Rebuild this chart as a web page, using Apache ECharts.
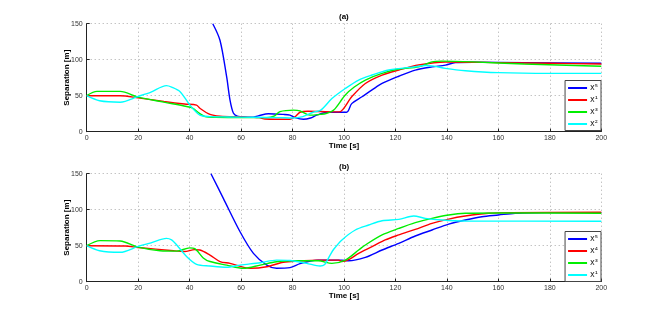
<!DOCTYPE html>
<html><head><meta charset="utf-8">
<script src="https://cdn.jsdelivr.net/npm/echarts@6/dist/echarts.min.js"></script>
<style>html,body{margin:0;padding:0;background:#fff}#c{width:664px;height:317px}</style>
</head><body><div id="c"></div>
<script>
// ---------- data (time [s], separation [m]) ----------
const xTicks = [0,20,40,60,80,100,120,140,160,180,200];
const yTicks = [0,50,100,150];
const panelTitles = ['(a)','(b)'];
const legendA = ['x⁵','x¹','x³','x²'];   // panel (a)
const legendB = ['x⁵','x⁴','x³','x¹'];   // panel (b)

const aBlue = [[49,150],[51.8,127],[54.4,76],[55.7,44],[57,26],[58.5,21.5],[60,20.8],[64,20],[66.7,22],[70.6,25],[76.4,24],[79,23],[81,19.5],[84.2,17.2],[87,19],[89.4,23],[93.9,27],[101,27],[103,39],[107,48.6],[110.9,58],[114.8,67],[121.3,77],[127.7,85.5],[134.2,90],[139.4,92.5],[143.3,96],[150,96.5],[170,96],[200,95]];
const aRed = [[0,50],[13,50],[20,47],[30,42],[38,38.5],[42.7,37],[44,32.5],[47.9,24],[51.8,21.5],[60,20.5],[67,19.5],[69.3,17.6],[79,17.2],[81,20.8],[82.9,27],[86,28.5],[96,27.5],[98.2,27.5],[103,48.6],[108.3,67],[114.8,78.7],[121.3,85.7],[129,92.6],[139.4,96.8],[160,96],[180,95],[200,94]];
const aGreen = [[0,50],[4,56],[13,56],[20,48],[30,41],[38.8,35],[41,33],[44,25],[46,21],[50,20],[60,19.5],[70,19.5],[73,22],[75.1,27.8],[80.3,30],[82.9,29],[86.8,23],[90.7,24],[93,25],[96,30],[100.5,51],[104,62],[108.3,71.8],[114.8,81],[121.3,87],[129,90],[134.2,97],[138,98],[150,97],[170,94],[200,91]];
const aCyan = [[0,50],[5,43],[13,41],[20,49],[25,55],[31,64],[33,62],[36.3,55.6],[40.1,37],[44,23],[48,21],[55,20.5],[65,20],[75,19.5],[80,19],[84,21],[88,27],[91,30],[95.3,46],[100.5,60],[105.7,71.8],[110.9,78.7],[117.4,85.7],[127.7,90.3],[131.6,92],[135,91],[139.4,88],[147.2,84.7],[160,82],[180,81],[200,81]];

const bBlue = [[48.3,150],[53.1,115.8],[59.6,69.4],[64.8,39.4],[70,23],[73.8,18.6],[79,19.5],[82.9,25],[87,28.7],[90,30],[99,30],[101.8,29],[108.3,33.8],[114.8,44],[121.3,53.3],[127.7,63.5],[134.2,71.8],[140.7,80],[147.1,85.7],[153.6,90.3],[160,92.6],[166.5,95],[173,95.8],[185,96],[200,96]];
const bRed = [[0,50],[15,49.5],[20,47.5],[33.7,43],[38,42],[42,44.5],[44,44],[47.9,37],[51.8,28],[55.7,25.5],[63.5,18.6],[70,20.8],[76.4,27],[82.9,28.7],[89.4,30],[98,30],[99.2,28],[102,31],[105.7,39.4],[110.9,48.6],[116,58],[121.3,65],[127.7,72.7],[134.2,81],[140.7,87],[147.1,91.2],[156.2,95],[165,96],[200,96.5]];
const bGreen = [[0,50],[5.2,57],[13,56.5],[20,48],[28.5,43],[35,42.5],[40,47],[42,46],[45.3,33],[47.9,28],[54.4,23],[60.9,18.6],[67.4,23],[73.8,27.8],[80.3,29],[90,29],[95.3,25.5],[100.5,30],[105.7,44],[108.3,51],[114.8,65],[121.3,74],[127.7,82],[134.2,88],[140.7,92.6],[147.1,95],[160,95.5],[200,95]];
const bCyan = [[0,50],[5,43],[13,40.8],[20,49],[25,54],[31,60.2],[33,58],[35,51],[38.9,34.7],[42.7,24.1],[47.9,21.8],[54.4,20],[59.6,23],[67.4,26.4],[73.8,30],[79,29.5],[85.5,25.5],[90.7,21.8],[92.5,24],[94.6,37],[96,45],[99.2,58],[104.4,71.8],[109.6,78.7],[114.8,84.7],[121.3,86.6],[127.1,91.2],[131.6,88],[138.1,85.7],[147.1,84.3],[200,84]];

// ---------- chart ----------
const FONT = 'Liberation Sans';
const colors = ['#0000ff','#ff0000','#00ee00','#00ffff'];
const panelData = [[aBlue,aRed,aGreen,aCyan],[bBlue,bRed,bGreen,bCyan]];
const legendNames = [legendA, legendB];
const grids = [
  {left:86.7, top:23.7, width:514.6, height:108},
  {left:86.7, top:173.7, width:514.6, height:108}
];

function xAxis(i){
  return {type:'value', gridIndex:i, min:xTicks[0], max:xTicks[xTicks.length-1], interval:20,
    name:'Time [s]', nameLocation:'middle', nameGap:10, nameMoveOverlap:false,
    nameTextStyle:{fontFamily:FONT, fontSize:8, fontWeight:'bold', color:'#000'},
    axisLine:{lineStyle:{color:'#222', width:1}},
    axisTick:{inside:true, length:3, lineStyle:{color:'#222'}},
    axisLabel:{fontFamily:FONT, fontSize:7, color:'#333', margin:3},
    splitLine:{show:true, lineStyle:{color:'#aaa', type:[1,3], width:1}}};
}
function yAxis(i){
  return {type:'value', gridIndex:i, min:yTicks[0], max:yTicks[yTicks.length-1], interval:50,
    name:'Separation [m]', nameLocation:'middle', nameGap:16, nameMoveOverlap:false,
    nameTextStyle:{fontFamily:FONT, fontSize:8, fontWeight:'bold', color:'#000'},
    axisLine:{show:true, lineStyle:{color:'#222', width:1}},
    axisTick:{show:true, inside:true, length:3, lineStyle:{color:'#222'}},
    axisLabel:{fontFamily:FONT, fontSize:7, color:'#333', margin:4},
    splitLine:{show:true, lineStyle:{color:'#aaa', type:[1,3], width:1}}};
}

const series = [];
const legends = [];
panelData.forEach((arr, p) => {
  const names = [];
  arr.forEach((d, k) => {
    const nm = 'p' + p + 's' + k;
    names.push(nm);
    series.push({type:'line', name:nm, xAxisIndex:p, yAxisIndex:p, data:d, showSymbol:false,
      smooth:0.3, clip:true,
      lineStyle:{color:colors[k], width:1.4}, itemStyle:{color:colors[k]}});
  });
  legends.push({
    data:names, orient:'vertical', right:63, top: p === 0 ? 80.5 : 231.5,
    backgroundColor:'#fff', borderColor:'#444', borderWidth:1, padding:[3,3,2,3],
    itemWidth:19, itemHeight:2, itemGap:3, icon:'rect', selectedMode:false,
    formatter: function(n){ return legendNames[p][+n.slice(-1)]; },
    textStyle:{fontFamily:'DejaVu Sans', fontSize:8, lineHeight:9, color:'#222', padding:[0,0,0,-2]}
  });
});

const chart = echarts.init(document.getElementById('c'), null, {renderer:'canvas'});
chart.setOption({
  animation:false,
  backgroundColor:'#fff',
  title: panelTitles.map((t, i) => ({text:t, left:334, top: i === 0 ? 8 : 158,
    textStyle:{fontFamily:FONT, fontSize:8, fontWeight:'bold', color:'#000'}})),
  grid: grids,
  xAxis: [xAxis(0), xAxis(1)],
  yAxis: [yAxis(0), yAxis(1)],
  legend: legends,
  series: series
});
</script></body></html>
